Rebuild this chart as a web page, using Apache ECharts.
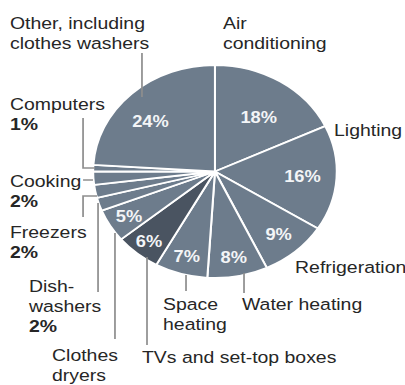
<!DOCTYPE html>
<html><head><meta charset="utf-8">
<script src="https://cdn.jsdelivr.net/npm/echarts@6/dist/echarts.min.js"></script>
<style>
html,body{margin:0;padding:0;background:#fff;overflow:hidden;}
#wrap{width:405px;height:385px;overflow:hidden;position:relative;}
#chart{width:354px;height:385px;transform:scaleX(1.144);transform-origin:0 0;}
</style></head><body><div id="wrap"><div id="chart"></div></div>
<script>
// Data (clockwise from 12 o'clock)
const categories = ['Air\nconditioning','Lighting','Refrigeration','Water heating','Space\nheating','TVs and set-top boxes','Clothes\ndryers','Dish-\nwashers','Freezers','Cooking','Computers','Other, including\nclothes washers'];
const values = [18,16,9,8,7,6,5,2,2,2,1,24];

// Layout / style (chart coordinates before the horizontal stretch)
const STRETCH = 1.144;
const CX = 187.9, CY = 171.5, R = 106.5;
const INSIDE_MIN = 5;
const pctRadius = [0.62,0.72,0.79,0.82,0.83,0.85,0.82,0,0,0,0,0.71];
const pctAngleShift = [3,0,0,0,0,0,0,0,0,0,0,-5];
const sliceColor = '#6d7c8c';
const darkColor = '#4a5461';
const darkIndex = 5;
const namePos = [
  {x:194.9,y:13,va:'top'},
  {x:292.0,y:130,va:'middle'},
  {x:257.9,y:267,va:'middle'},
  {x:211.5,y:304,va:'middle',line:[[213.3,273],[213.3,293]]},
  {x:142.5,y:293.5,va:'top',line:[[162.6,275],[162.6,291]]},
  {x:124.1,y:357,va:'middle',line:[[128.5,257],[128.5,345]]},
  {x:45.5,y:344.5,va:'top',line:[[100.5,233],[100.5,339]]},
  {x:25.3,y:275.5,va:'top',line:[[85.7,203],[85.7,292]]},
  {x:8.7,y:221.5,va:'top',line:[[84.8,196],[72.6,196],[72.6,217]]},
  {x:8.7,y:170.5,va:'top',line:[[81.3,180],[72.6,180]]},
  {x:8.7,y:93.5,va:'top',line:[[83,168],[72.6,168],[72.6,118]]},
  {x:8.7,y:13,va:'top',line:[[124.1,97],[124.1,53]]}
];

const total = values.reduce((a,b)=>a+b,0);
function midAngle(i){
  let c = 0; for (let k=0;k<i;k++) c += values[k];
  return ((c + values[i]/2)/total*360 + pctAngleShift[i]) * Math.PI/180;
}

const chart = echarts.init(document.getElementById('chart'), null, {renderer:'svg'});
chart.setOption({
  animation:false,
  backgroundColor:'#fff',
  graphic: namePos.filter(s=>s.line).map(s=>({
    type:'polyline', z:10, silent:true,
    shape:{points:s.line},
    style:{stroke:'#8e8e8e', lineWidth:1.5, fill:null}
  })),
  series:[
    {
      type:'pie', center:[CX,CY], radius:[0,R], startAngle:90, clockwise:true,
      avoidLabelOverlap:false, silent:true, z:1,
      itemStyle:{borderColor:'#fff', borderWidth:1.8},
      data: categories.map((n,i)=>({
        name:n, value:values[i],
        itemStyle:{color: i===darkIndex ? darkColor : sliceColor},
        label:{show: values[i] >= INSIDE_MIN}
      })),
      label:{position:'inside', formatter:'{c}%', color:'#f3f5f7', fontFamily:'Liberation Sans', fontWeight:'bold', fontSize:16},
      labelLine:{show:false},
      labelLayout: p => {
        const a = midAngle(p.dataIndex), f = pctRadius[p.dataIndex];
        return {x: CX + f*R*Math.sin(a), y: CY - f*R*Math.cos(a), align:'center', verticalAlign:'middle'};
      }
    },
    {
      type:'pie', center:[CX,CY], radius:[0,R], startAngle:90, clockwise:true,
      avoidLabelOverlap:false, silent:true, z:2,
      itemStyle:{color:'rgba(0,0,0,0)', borderWidth:0},
      data: categories.map((n,i)=>({name:n, value:values[i]})),
      label:{
        position:'outside', overflow:'none', color:'#262626',
        formatter: p => {
          const lines = p.name.split('\n').map(s=>'{n|'+s+'}');
          if (p.value < INSIDE_MIN) lines.push('{b|'+p.value+'%}');
          return lines.join('\n');
        },
        rich:{
          n:{fontFamily:'Liberation Sans', fontSize:17, lineHeight:20, color:'#262626'},
          b:{fontFamily:'Liberation Sans', fontSize:17, lineHeight:20, fontWeight:'bold', color:'#262626'}
        }
      },
      labelLine:{show:false},
      labelLayout: p => {
        const s = namePos[p.dataIndex];
        return {x:s.x, y:s.y, align:'left', verticalAlign:s.va};
      }
    }
  ]
});
</script></body></html>
